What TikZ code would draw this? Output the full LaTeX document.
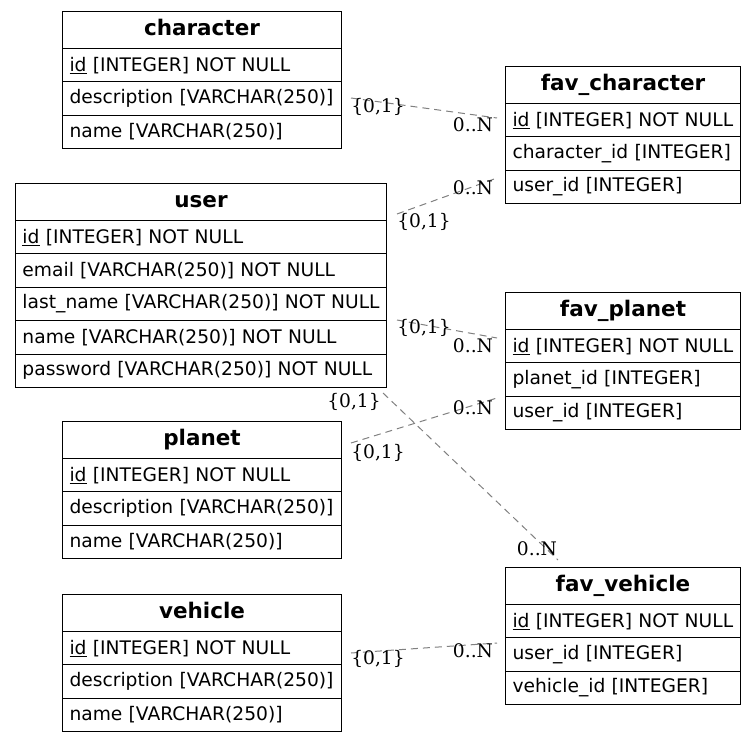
\documentclass[tikz,border=0pt]{standalone}
\usepackage{fontspec}
\setmainfont{DejaVu Sans}
\newfontfamily\lblfont{DejaVu Serif}
\newcommand{\pk}[1]{\underline{#1}}
\begin{document}
\begin{tikzpicture}[x=1pt,y=-1pt,
  font=\fontsize{18.67}{22}\selectfont,
  hdr/.style={draw, line width=1pt, anchor=north west, minimum height=37pt, inner xsep=7pt, inner ysep=0pt, text width=#1, text height=16.3pt, text depth=5pt, align=center, font=\fontsize{21.5}{24}\selectfont\bfseries},
  row/.style={draw, line width=1pt, anchor=north west, minimum height=33.4pt, inner xsep=7pt, inner ysep=0pt, text width=#1, align=left},
  lbl/.style={inner sep=0pt, font=\lblfont\fontsize{18.67}{22}\selectfont},
  rel/.style={draw=gray, line width=1pt, dash pattern=on 7pt off 5pt}]
\useasboundingbox (0,0) rectangle (756,741);
% character
\node[hdr=265] (character) at (62,11) {character};
\node[row=265] (character-id) at (62,48) {\mbox{\pk{id} [INTEGER] NOT NULL}};
\node[row=265] (character-desc) at (62,81.4) {\mbox{description [VARCHAR(250)]}};
\node[row=265] (character-name) at (62,114.8) {\mbox{name [VARCHAR(250)]}};
% fav_character
\node[hdr=221] (favc) at (505,66) {fav\_character};
\node[row=221] (favc-id) at (505,103) {\mbox{\pk{id} [INTEGER] NOT NULL}};
\node[row=221] (favc-char) at (505,136.4) {\mbox{character\_id [INTEGER]}};
\node[row=221] (favc-user) at (505,169.8) {\mbox{user\_id [INTEGER]}};
% user
\node[hdr=357] (user) at (15,183) {user};
\node[row=357] (user-id) at (15,220) {\mbox{\pk{id} [INTEGER] NOT NULL}};
\node[row=357] (user-email) at (15,253.4) {\mbox{email [VARCHAR(250)] NOT NULL}};
\node[row=357] (user-last) at (15,286.8) {\mbox{last\_name [VARCHAR(250)] NOT NULL}};
\node[row=357] (user-name) at (15,320.2) {\mbox{name [VARCHAR(250)] NOT NULL}};
\node[row=357] (user-pass) at (15,353.6) {\mbox{password [VARCHAR(250)] NOT NULL}};
% fav_planet
\node[hdr=221] (favp) at (505,292) {fav\_planet};
\node[row=221] (favp-id) at (505,329) {\mbox{\pk{id} [INTEGER] NOT NULL}};
\node[row=221] (favp-planet) at (505,362.4) {\mbox{planet\_id [INTEGER]}};
\node[row=221] (favp-user) at (505,395.8) {\mbox{user\_id [INTEGER]}};
% planet
\node[hdr=265] (planet) at (62,421) {planet};
\node[row=265] (planet-id) at (62,458) {\mbox{\pk{id} [INTEGER] NOT NULL}};
\node[row=265] (planet-desc) at (62,491.4) {\mbox{description [VARCHAR(250)]}};
\node[row=265] (planet-name) at (62,524.8) {\mbox{name [VARCHAR(250)]}};
% vehicle
\node[hdr=265] (vehicle) at (62,594) {vehicle};
\node[row=265] (vehicle-id) at (62,631) {\mbox{\pk{id} [INTEGER] NOT NULL}};
\node[row=265] (vehicle-desc) at (62,664.4) {\mbox{description [VARCHAR(250)]}};
\node[row=265] (vehicle-name) at (62,697.8) {\mbox{name [VARCHAR(250)]}};
% fav_vehicle
\node[hdr=221] (favv) at (505,567) {fav\_vehicle};
\node[row=221] (favv-id) at (505,604) {\mbox{\pk{id} [INTEGER] NOT NULL}};
\node[row=221] (favv-user) at (505,637.4) {\mbox{user\_id [INTEGER]}};
\node[row=221] (favv-veh) at (505,670.8) {\mbox{vehicle\_id [INTEGER]}};
% edge end points
\coordinate (c1a) at (351,98);  \coordinate (c1b) at (497,118);
\coordinate (c2a) at (397,214); \coordinate (c2b) at (497,178);
\coordinate (c3a) at (397,320); \coordinate (c3b) at (497,338);
\coordinate (c4a) at (383,393); \coordinate (c4b) at (558,560);
\coordinate (c5a) at (351,443); \coordinate (c5b) at (497,398);
\coordinate (c6a) at (351,653); \coordinate (c6b) at (497,643);
\draw[rel] (c1a) -- (c1b);
\draw[rel] (c2a) -- (c2b);
\draw[rel] (c3a) -- (c3b);
\draw[rel] (c4a) -- (c4b);
\draw[rel] (c5a) -- (c5b);
\draw[rel] (c6a) -- (c6b);
% labels
\node[lbl] (l1a) at (378,107) {\{0,1\}};
\node[lbl] (l1b) at (473,125) {0..N};
\node[lbl] (l2a) at (424,222) {\{0,1\}};
\node[lbl] (l2b) at (473,188) {0..N};
\node[lbl] (l3a) at (424,328) {\{0,1\}};
\node[lbl] (l3b) at (473,346) {0..N};
\node[lbl] (l4a) at (354,402) {\{0,1\}};
\node[lbl] (l4b) at (537,549) {0..N};
\node[lbl] (l5a) at (378,453) {\{0,1\}};
\node[lbl] (l5b) at (473,408) {0..N};
\node[lbl] (l6a) at (378,659) {\{0,1\}};
\node[lbl] (l6b) at (473,651) {0..N};
\end{tikzpicture}
\end{document}
